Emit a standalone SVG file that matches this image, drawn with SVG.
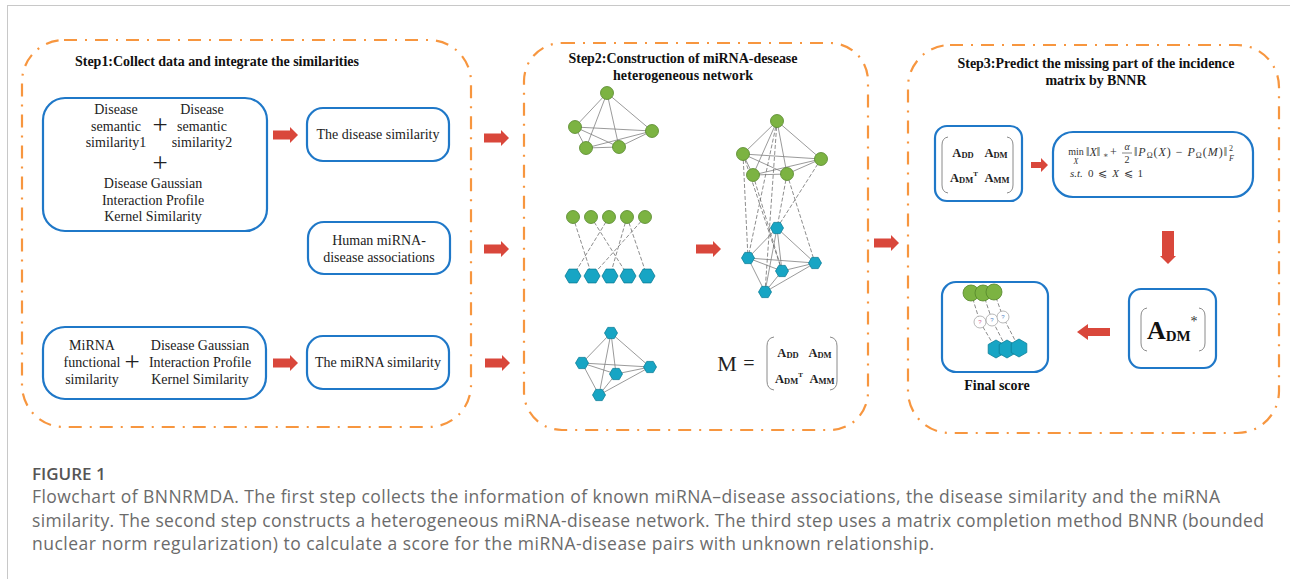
<svg xmlns="http://www.w3.org/2000/svg" width="1290" height="579" viewBox="0 0 1290 579">
<defs>
<style>
.panel{fill:none;stroke:#f7963f;stroke-width:2.2;stroke-dasharray:13 8 2 8;stroke-linecap:butt}
.box{fill:#fff;stroke:#1f78c8;stroke-width:2.2}
.t{font-family:"Liberation Serif","Times New Roman",serif;font-size:14px;fill:#222}
.plus{font-family:"Liberation Serif","Times New Roman",serif;font-size:27px;fill:#222}
.title{font-family:"Liberation Serif","Times New Roman",serif;font-size:14px;font-weight:bold;fill:#111}
.mx{font-family:"Liberation Serif","Times New Roman",serif;font-size:12.5px;font-weight:bold;fill:#222}
.arr{fill:#d9473b}
.e{stroke:#808080;stroke-width:0.8;fill:none}
.d{stroke:#707070;stroke-width:0.8;fill:none;stroke-dasharray:4 2}
.g{fill:#7cb342;stroke:#55862b;stroke-width:0.8}
.h{fill:#17a5c4;stroke:#0d7f98;stroke-width:0.8}
.br{fill:none;stroke:#8a8a8a;stroke-width:1}
.cap{font-family:"Open Sans","Noto Sans",sans-serif;font-size:17.5px;fill:#6b6b6b}
.f{font-family:"Liberation Serif","DejaVu Serif",serif;fill:#333}
</style>
<path id="ra" d="M0,-4.5 H17 V-8 L25,0 L17,8 V4.5 H0 Z"/>
<polygon id="hx" points="8,0 4,6.9 -4,6.9 -8,0 -4,-6.9 4,-6.9"/>
<polygon id="hs" points="6.5,0 3.25,5.6 -3.25,5.6 -6.5,0 -3.25,-5.6 3.25,-5.6"/>
<polygon id="hp" points="0,-9 7.8,-4.5 7.8,4.5 0,9 -7.8,4.5 -7.8,-4.5"/>
</defs>
<rect width="1290" height="579" fill="#fff"/>
<g id="frame">
<line x1="7" y1="5.5" x2="1290" y2="5.5" stroke="#c8c8c8" stroke-width="1"/>
<line x1="7.5" y1="5" x2="7.5" y2="579" stroke="#c8c8c8" stroke-width="1"/>
</g>

<g id="step1">
<rect class="panel" x="22" y="40" width="449" height="387" rx="42"/>
<text class="title" x="75" y="66" textLength="284">Step1:Collect data and integrate the similarities</text>
</g>
<g id="step2">
<rect class="panel" x="524" y="43" width="344" height="387" rx="38"/>
<text class="title" x="683" y="63" text-anchor="middle" textLength="229">Step2:Construction of miRNA-desease</text>
<text class="title" x="683" y="80" text-anchor="middle" textLength="140">heterogeneous network</text>
</g>
<g id="step3">
<rect class="panel" x="908" y="45" width="371" height="388" rx="42"/>
<text class="title" x="1096" y="68" text-anchor="middle" textLength="277">Step3:Predict the missing part of the incidence</text>
<text class="title" x="1096" y="85" text-anchor="middle" textLength="101">matrix by BNNR</text>
</g>

<g id="disease-inputs">
<rect class="box" x="43" y="98" width="224" height="133" rx="22"/>
<text class="t" text-anchor="middle"><tspan x="116" y="114">Disease</tspan><tspan x="116" y="131">semantic</tspan><tspan x="116" y="147">similarity1</tspan></text>
<text class="t" text-anchor="middle"><tspan x="202" y="114">Disease</tspan><tspan x="202" y="131">semantic</tspan><tspan x="202" y="147">similarity2</tspan></text>
<text class="plus" x="160" y="134" text-anchor="middle">+</text>
<text class="plus" x="160" y="172" text-anchor="middle">+</text>
<text class="t" text-anchor="middle"><tspan x="153" y="188">Disease Gaussian</tspan><tspan x="153" y="205">Interaction Profile</tspan><tspan x="153" y="221">Kernel Similarity</tspan></text>
</g>
<g id="disease-similarity">
<rect class="box" x="307" y="108" width="142" height="53" rx="16"/>
<text class="t" x="378" y="139" text-anchor="middle">The disease similarity</text>
</g>
<g id="associations">
<rect class="box" x="308" y="222" width="142" height="52" rx="16"/>
<text class="t" text-anchor="middle"><tspan x="379" y="245">Human miRNA-</tspan><tspan x="379" y="262">disease associations</tspan></text>
</g>
<g id="mirna-inputs">
<rect class="box" x="43" y="327" width="223" height="72" rx="22"/>
<text class="t" text-anchor="middle"><tspan x="92" y="350">MiRNA</tspan><tspan x="92" y="367">functional</tspan><tspan x="92" y="384">similarity</tspan></text>
<text class="plus" x="132" y="371" text-anchor="middle">+</text>
<text class="t" text-anchor="middle"><tspan x="200" y="350">Disease Gaussian</tspan><tspan x="200" y="367">Interaction Profile</tspan><tspan x="200" y="384">Kernel Similarity</tspan></text>
</g>
<g id="mirna-similarity">
<rect class="box" x="307" y="336" width="142" height="53" rx="16"/>
<text class="t" x="378" y="367" text-anchor="middle">The miRNA similarity</text>
</g>

<g id="disease-network">
<path class="e" d="M607,93 L575,127 M607,93 L652,131 M607,93 L586,148 M607,93 L619,147 M575,127 L652,131 M575,127 L586,148 M575,127 L619,147 M586,148 L619,147 M586,148 L652,131 M619,147 L652,131"/>
<circle class="g" cx="607" cy="93" r="6.5"/><circle class="g" cx="575" cy="127" r="6.5"/><circle class="g" cx="652" cy="131" r="6.5"/><circle class="g" cx="586" cy="148" r="6.5"/><circle class="g" cx="619" cy="147" r="6.5"/>
</g>
<g id="bipartite-network">
<path class="d" d="M573,217 L592,276 M591,217 L628,276 M609,217 L573,276 M627,217 L610,276 M627,217 L647,276 M645,217 L592,276"/>
<circle class="g" cx="573" cy="217" r="6.5"/><circle class="g" cx="591" cy="217" r="6.5"/><circle class="g" cx="609" cy="217" r="6.5"/><circle class="g" cx="627" cy="217" r="6.5"/><circle class="g" cx="645" cy="217" r="6.5"/>
<use href="#hx" class="h" x="573" y="276"/><use href="#hx" class="h" x="592" y="276"/><use href="#hx" class="h" x="610" y="276"/><use href="#hx" class="h" x="628" y="276"/><use href="#hx" class="h" x="647" y="276"/>
</g>
<g id="mirna-network">
<path class="e" d="M611,333 L582,363 M611,333 L650,367 M611,333 L616,374 M611,333 L599,395 M582,363 L650,367 M582,363 L616,374 M582,363 L599,395 M616,374 L650,367 M599,395 L650,367 M599,395 L616,374"/>
<use href="#hs" class="h" x="611" y="333"/><use href="#hs" class="h" x="582" y="363"/><use href="#hs" class="h" x="650" y="367"/><use href="#hs" class="h" x="616" y="374"/><use href="#hs" class="h" x="599" y="395"/>
</g>
<g id="heterogeneous-network">
<path class="e" d="M777,121 L743,154 M777,121 L821,159 M777,121 L753,175 M777,121 L787,174 M743,154 L821,159 M743,154 L753,175 M743,154 L787,174 M753,175 L787,174 M753,175 L821,159 M787,174 L821,159"/>
<path class="e" d="M777,228 L748,258 M777,228 L815,263 M777,228 L782,271 M777,228 L765,292 M748,258 L815,263 M748,258 L782,271 M748,258 L765,292 M782,271 L815,263 M765,292 L815,263 M765,292 L782,271"/>
<path class="d" d="M743,154 L748,258 M753,175 L782,271 M777,121 L765,292 M787,174 L777,228 M787,174 L815,263 M821,159 L777,228 M777,121 L748,258 M743,154 L782,271"/>
<circle class="g" cx="777" cy="121" r="6.5"/><circle class="g" cx="743" cy="154" r="6.5"/><circle class="g" cx="821" cy="159" r="6.5"/><circle class="g" cx="753" cy="175" r="6.5"/><circle class="g" cx="787" cy="174" r="6.5"/>
<use href="#hs" class="h" x="777" y="228"/><use href="#hs" class="h" x="748" y="258"/><use href="#hs" class="h" x="815" y="263"/><use href="#hs" class="h" x="782" y="271"/><use href="#hs" class="h" x="765" y="292"/>
</g>
<g id="matrix-M">
<text x="727" y="371" text-anchor="middle" font-family="Liberation Serif,serif" font-size="22" fill="#222">M</text>
<text x="749" y="370" text-anchor="middle" font-family="Liberation Serif,serif" font-size="20" fill="#222">=</text>
<path class="br" d="M774,337 Q767,338 767,346 V381 Q767,389 774,390"/>
<path class="br" d="M830,337 Q837,338 837,346 V381 Q837,389 830,390"/>
<text class="mx" x="788" y="357" text-anchor="middle">A<tspan font-size="8.5" dy="1">DD</tspan></text>
<text class="mx" x="820" y="357" text-anchor="middle">A<tspan font-size="8.5" dy="1">DM</tspan></text>
<text class="mx" x="789" y="383" text-anchor="middle">A<tspan font-size="8.5" dy="1">DM</tspan><tspan font-size="7" dy="-7">T</tspan></text>
<text class="mx" x="822" y="383" text-anchor="middle">A<tspan font-size="8.5" dy="1">MM</tspan></text>
</g>

<g id="matrix-box">
<rect class="box" x="935" y="126" width="87" height="75" rx="12"/>
<path class="br" d="M948,137 Q942,138 942,145 V185 Q942,192 948,193"/>
<path class="br" d="M1007,137 Q1013,138 1013,145 V185 Q1013,192 1007,193"/>
<text class="mx" x="963" y="157" text-anchor="middle">A<tspan font-size="8.5" dy="1">DD</tspan></text>
<text class="mx" x="996" y="157" text-anchor="middle">A<tspan font-size="8.5" dy="1">DM</tspan></text>
<text class="mx" x="964" y="182" text-anchor="middle">A<tspan font-size="8.5" dy="1">DM</tspan><tspan font-size="7" dy="-7">T</tspan></text>
<text class="mx" x="997" y="182" text-anchor="middle">A<tspan font-size="8.5" dy="1">MM</tspan></text>
</g>
<g id="formula-box">
<rect class="box" x="1053" y="132" width="200" height="65" rx="20"/>
<text class="f" x="1076" y="155" text-anchor="middle" font-size="10">min</text>
<text class="f" x="1076" y="164" text-anchor="middle" font-size="8" font-style="italic">X</text>
<text class="f" x="1086" y="156" font-size="12">‖<tspan font-style="italic">X</tspan>‖</text>
<text class="f" x="1103" y="158" font-size="8">∗</text>
<text class="f" x="1110" y="156" font-size="12">+</text>
<text class="f" x="1127" y="150" text-anchor="middle" font-size="10" font-style="italic">α</text>
<line x1="1122" y1="153" x2="1132" y2="153" stroke="#333" stroke-width="0.6"/>
<text class="f" x="1127" y="163" text-anchor="middle" font-size="10">2</text>
<text class="f" x="1134" y="156" font-size="12" textLength="93" lengthAdjust="spacing">‖<tspan font-style="italic">P</tspan><tspan font-size="8" dy="2">Ω</tspan><tspan dy="-2">(</tspan><tspan font-style="italic">X</tspan>) − <tspan font-style="italic">P</tspan><tspan font-size="8" dy="2">Ω</tspan><tspan dy="-2">(</tspan><tspan font-style="italic">M</tspan>)‖</text>
<text class="f" x="1229" y="151" font-size="8">2</text>
<text class="f" x="1229" y="161" font-size="8" font-style="italic">F</text>
<text class="f" x="1070" y="177" font-size="11" font-style="italic">s.t.</text>
<text class="f" x="1088" y="177" font-size="11" textLength="55" lengthAdjust="spacing">0 ⩽ <tspan font-style="italic">X</tspan> ⩽ 1</text>
</g>
<g id="adm-box">
<rect class="box" x="1129" y="289" width="87" height="79" rx="12"/>
<path class="br" d="M1147,308 Q1141,309 1141,316 V343 Q1141,350 1147,351"/>
<path class="br" d="M1199,308 Q1205,309 1205,316 V343 Q1205,350 1199,351"/>
<text x="1147" y="339" font-family="Liberation Serif,serif" font-size="26" font-weight="bold" fill="#111">A<tspan font-size="15" dy="2">DM</tspan></text>
<text x="1194" y="326" text-anchor="middle" font-family="Liberation Serif,serif" font-size="14" fill="#333">*</text>
</g>
<g id="final-score">
<rect class="box" x="942" y="282" width="106" height="90" rx="14"/>
<path class="d" d="M971,293 L980,322 L996,349 M983,293 L992,320 L1007,349 M994,292 L1003,317 L1019,348"/>
<circle class="g" cx="971" cy="293" r="8"/><circle class="g" cx="983" cy="293" r="8"/><circle class="g" cx="994" cy="292" r="8"/>
<circle cx="980" cy="322" r="6" fill="#fff" stroke="#999" stroke-width="0.7"/><circle cx="992" cy="320" r="6" fill="#fff" stroke="#999" stroke-width="0.7"/><circle cx="1003" cy="317" r="6" fill="#fff" stroke="#999" stroke-width="0.7"/>
<g font-family="Liberation Sans,sans-serif" font-size="6" text-anchor="middle"><text x="980" y="324" fill="#d36a9a">?</text><text x="992" y="322" fill="#5a88c8">?</text><text x="1003" y="319" fill="#5a88c8">?</text></g>
<use href="#hp" class="h" x="996" y="349"/><use href="#hp" class="h" x="1007" y="349"/><use href="#hp" class="h" x="1019" y="348"/>
<text class="title" x="997" y="390" text-anchor="middle" font-size="13">Final score</text>
</g>

<g id="connectors">
<use href="#ra" class="arr" x="273" y="135"/>
<use href="#ra" class="arr" x="273" y="363"/>
<use href="#ra" class="arr" x="484" y="138"/>
<use href="#ra" class="arr" x="484" y="249"/>
<use href="#ra" class="arr" x="485" y="363"/>
<use href="#ra" class="arr" x="696" y="249"/>
<use href="#ra" class="arr" x="874" y="243"/>
<path class="arr" d="M1031,162 H1041 V158 L1048,165 L1041,172 V168 H1031 Z"/>
<path class="arr" d="M1162,231 H1174 V256 H1176 L1168,264 L1160,256 H1162 Z"/>
<path class="arr" d="M1110,328 H1088 V324 L1077,332 L1088,340 V336 H1110 Z"/>
</g>

<g id="caption">
<text x="32" y="480" font-family="'Open Sans','Noto Sans',sans-serif" font-size="17" font-weight="600" fill="#555">FIGURE 1</text>
<text class="cap" x="32" y="503" textLength="1188" lengthAdjust="spacing">Flowchart of BNNRMDA. The first step collects the information of known miRNA–disease associations, the disease similarity and the miRNA</text>
<text class="cap" x="32" y="527" textLength="1232" lengthAdjust="spacing">similarity. The second step constructs a heterogeneous miRNA-disease network. The third step uses a matrix completion method BNNR (bounded</text>
<text class="cap" x="32" y="550" textLength="902" lengthAdjust="spacing">nuclear norm regularization) to calculate a score for the miRNA-disease pairs with unknown relationship.</text>
</g>
</svg>
